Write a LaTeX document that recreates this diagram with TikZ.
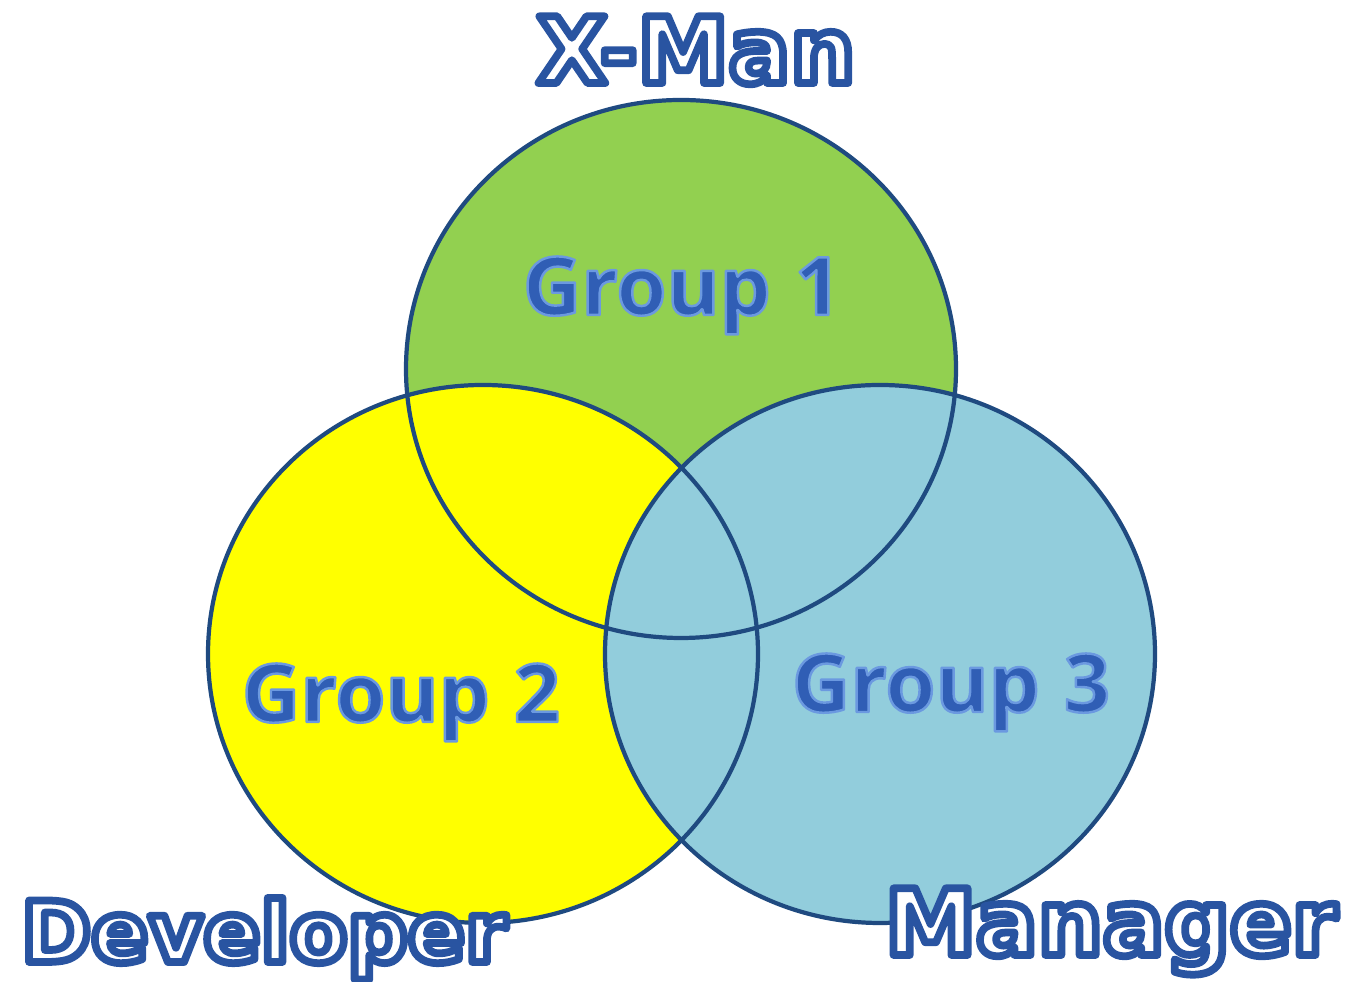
\documentclass[tikz,border=0pt]{standalone}
\usepackage{fontspec}
\usepackage{tikz}
\setmainfont{DejaVu Sans}
\newfontfamily\grpfont{Open Sans}
\definecolor{grpgreen}{HTML}{92D050}
\definecolor{grpyellow}{HTML}{FFFF00}
\definecolor{grpblue}{HTML}{92CDDC}
\definecolor{rimblue}{HTML}{1F4A80}
\definecolor{glossblue}{HTML}{3262B8}
% white letters with a blue stroke round them
\newcommand{\hollow}[1]{\special{pdf:code q 2 Tr 2.2 w 1 j 1 g 0.16 0.33 0.63 RG}#1\special{pdf:code Q}}
% blue letters with a thin light edge
\newcommand{\glossy}[1]{\special{pdf:code q 2 Tr 0.7 w 1 j 0.19 0.37 0.71 rg 0.42 0.6 0.88 RG}#1\special{pdf:code Q}}
\tikzset{
  rim/.style={draw=rimblue,line width=1.2pt},
  rolelabel/.style={anchor=base,inner sep=0pt,font=\bfseries},
  grplabel/.style={anchor=base,inner sep=0pt,text=glossblue,font=\grpfont\bfseries\fontsize{23}{28}\selectfont},
}

\begin{document}
\begin{tikzpicture}
			\useasboundingbox (0.,0.) rectangle (13.56,9.82);
			%\fill[white] (0.,0.) rectangle (13.56,9.82);
			\fill[grpgreen]  (6.81,6.13) ellipse (2.75 and 2.69);
			\fill[grpyellow] (4.83,3.28) ellipse (2.75 and 2.69);
			\fill[grpblue]   (8.80,3.28) ellipse (2.75 and 2.69);
			\draw[rim] (6.81,6.13) ellipse (2.75 and 2.69);
			\draw[rim] (4.83,3.28) ellipse (2.75 and 2.69);
			\draw[rim] (8.80,3.28) ellipse (2.75 and 2.69);
			\node[grplabel] (grpone)   at (6.82,6.67) {\glossy{Group\hspace{0.3em}1}};
			\node[grplabel] (grptwo)   at (4.01,2.60) {\glossy{Group\hspace{0.3em}2}};
			\node[grplabel] (grpthree) at (9.51,2.70) {\glossy{Group\hspace{0.3em}3}};
			\node[rolelabel,font=\bfseries\fontsize{26}{31}\selectfont] (xman) at (6.96,8.99)
				{\hollow{X-Man}};
			\node[rolelabel,font=\bfseries\fontsize{24}{29}\selectfont] (developer) at (2.64,0.20)
				{\hollow{Developer}};
			\node[rolelabel,font=\bfseries\fontsize{26}{31}\selectfont] (manager) at (11.11,0.27)
				{\hollow{Manager}};
		\end{tikzpicture}
\end{document}
